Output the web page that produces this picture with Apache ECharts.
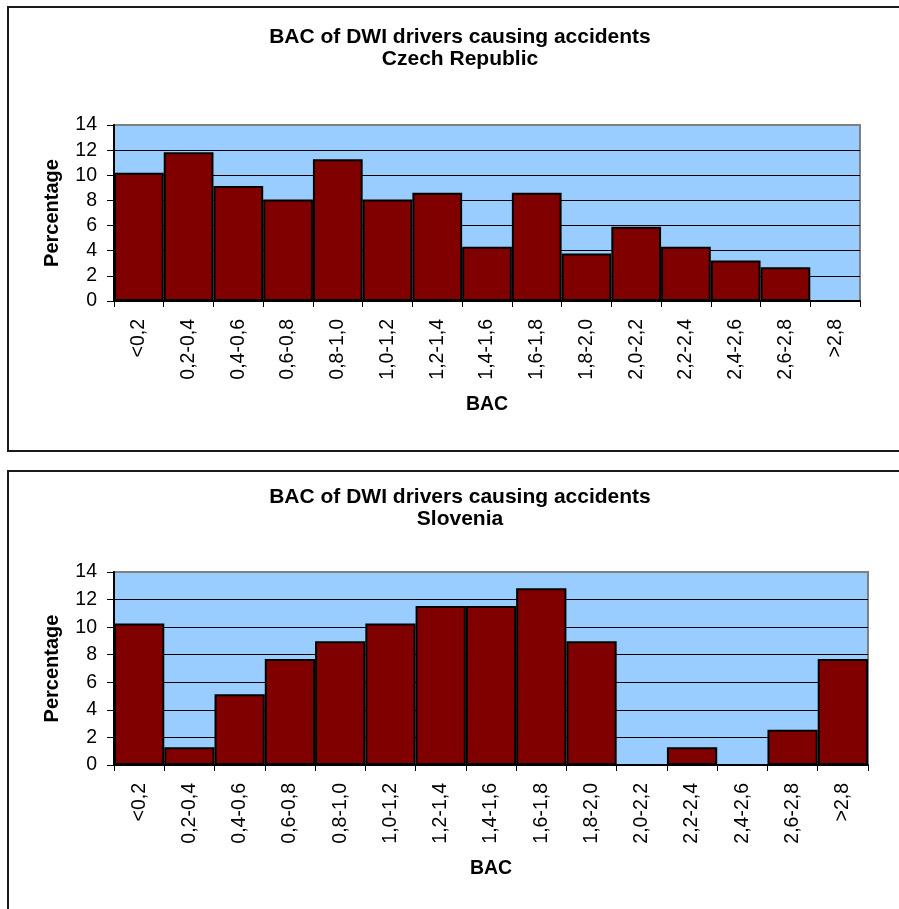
<!DOCTYPE html>
<html>
<head>
<meta charset="utf-8">
<script src="https://cdn.jsdelivr.net/npm/echarts@6/dist/echarts.min.js"></script>
<style>
html,body{margin:0;padding:0;background:#ffffff;}
#chart{width:899px;height:909px;}
</style>
</head>
<body>
<div id="chart"></div>
<script>
const categories = ['<0,2','0,2-0,4','0,4-0,6','0,6-0,8','0,8-1,0','1,0-1,2','1,2-1,4','1,4-1,6','1,6-1,8','1,8-2,0','2,0-2,2','2,2-2,4','2,4-2,6','2,6-2,8','>2,8'];
const czechValues = [10.2, 11.83, 9.15, 8.08, 11.28, 8.08, 8.62, 4.31, 8.62, 3.77, 5.91, 4.31, 3.22, 2.69, 0];
const sloveniaValues = [10.26, 1.28, 5.13, 7.69, 8.97, 10.26, 11.54, 11.54, 12.82, 8.97, 0, 1.28, 0, 2.56, 7.69];
const mainTitle = 'BAC of DWI drivers causing accidents';
const subTitles = ['Czech Republic', 'Slovenia'];
const yName = 'Percentage';
const xName = 'BAC';
const yMin = 0, yMax = 14, yStep = 2;

const FONT = '"Liberation Sans", Arial, sans-serif';
const chart = echarts.init(document.getElementById('chart'), null, {renderer: 'canvas'});

const grids = [
  {left: 114, top: 125, width: 746, height: 176},
  {left: 114, top: 572, width: 754, height: 193}
];

function xAxisFor(i) {
  return {
    type: 'category', gridIndex: i, data: categories,
    name: xName, nameLocation: 'middle', nameGap: 94,
    nameTextStyle: {fontFamily: FONT, fontSize: 19.5, fontWeight: 'bold', color: '#000'},
    axisLine: {lineStyle: {color: '#000', width: 2}},
    axisTick: {show: true, length: 6, lineStyle: {color: '#000', width: 1}},
    axisLabel: {interval: 0, rotate: 90, margin: 18, fontFamily: FONT, fontSize: 19.5, color: '#000'},
    splitLine: {show: false}
  };
}
function yAxisFor(i) {
  return {
    type: 'value', gridIndex: i, min: yMin, max: yMax, interval: yStep,
    name: yName, nameLocation: 'middle', nameGap: 52,
    nameTextStyle: {fontFamily: FONT, fontSize: 20, fontWeight: 'bold', color: '#000'},
    axisLine: {show: true, lineStyle: {color: '#000', width: 2}},
    axisTick: {show: true, length: 7, lineStyle: {color: '#000', width: 1}},
    axisLabel: {margin: 17, fontFamily: FONT, fontSize: 19.5, color: '#000'},
    splitLine: {show: true, showMaxLine: false, lineStyle: {color: '#000', width: 1}}
  };
}
function barFor(i, values) {
  return {
    type: 'bar', xAxisIndex: i, yAxisIndex: i, data: values,
    barCategoryGap: '0%', barGap: '0%',
    itemStyle: {color: '#800000', borderColor: '#000', borderWidth: 2},
    emphasis: {disabled: true}, animation: false
  };
}

const titleOffsets = [0, 460];
const graphics = [];
graphics.push({type: 'rect', shape: {x: 8, y: 7, width: 1000, height: 444}, style: {fill: 'none', stroke: '#1a1a1a', lineWidth: 2}, z: 10});
graphics.push({type: 'rect', shape: {x: 8, y: 471, width: 1000, height: 600}, style: {fill: 'none', stroke: '#1a1a1a', lineWidth: 2}, z: 10});
titleOffsets.forEach((off, i) => {
  graphics.push({type: 'text', x: 460, y: 37 + off, style: {text: mainTitle, font: 'bold 21px ' + FONT, fill: '#000', align: 'center', verticalAlign: 'middle'}, z: 10});
  graphics.push({type: 'text', x: 460, y: 59 + off, style: {text: subTitles[i], font: 'bold 21px ' + FONT, fill: '#000', align: 'center', verticalAlign: 'middle'}, z: 10});
});

chart.setOption({
  animation: false,
  backgroundColor: '#ffffff',
  grid: grids.map(g => Object.assign({show: true, backgroundColor: '#99CCFF', borderColor: '#808080', borderWidth: 2, containLabel: false, outerBoundsMode: 'none'}, g)),
  xAxis: [xAxisFor(0), xAxisFor(1)],
  yAxis: [yAxisFor(0), yAxisFor(1)],
  series: [barFor(0, czechValues), barFor(1, sloveniaValues)],
  graphic: graphics
});
</script>
</body>
</html>
